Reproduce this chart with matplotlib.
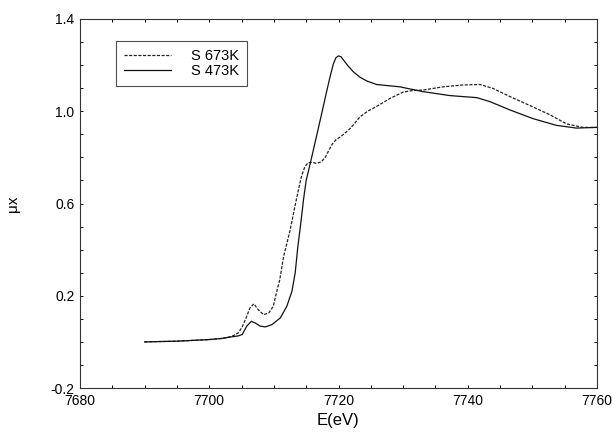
#!/usr/bin/env python3

import matplotlib
matplotlib.use('Agg')
import matplotlib.pyplot as plt
from matplotlib.ticker import MultipleLocator

# XANES spectra
energy_673 = [7690, 7695, 7700, 7702, 7703.5, 7704.5, 7705.1, 7705.6, 7706.3, 7706.9,
              7707.6, 7708.4, 7709.2, 7709.9, 7710.5, 7710.9, 7711.5, 7712.5, 7713.2,
              7713.8, 7714.3, 7714.8, 7715.3, 7716.0, 7716.6, 7717.3, 7717.9, 7718.5,
              7719.0, 7719.6, 7720.3, 7721.0, 7721.8, 7722.5, 7723.3, 7724.5, 7725.9,
              7728.0, 7730.0, 7731.5, 7733.1, 7736.2, 7739.3, 7741.9, 7743.9, 7746.5,
              7749.6, 7752.7, 7755.3, 7757.8, 7760]
mu_673 = [0.0, 0.003, 0.01, 0.015, 0.024, 0.039, 0.065, 0.097, 0.147, 0.165,
          0.139, 0.118, 0.125, 0.154, 0.225, 0.268, 0.369, 0.483, 0.58,
          0.66, 0.72, 0.76, 0.777, 0.778, 0.774, 0.78, 0.798, 0.83,
          0.856, 0.876, 0.889, 0.905, 0.925, 0.948, 0.975, 1.0, 1.021,
          1.056, 1.083, 1.09, 1.092, 1.106, 1.114, 1.116, 1.099, 1.064,
          1.025, 0.985, 0.945, 0.93, 0.93]

energy_473 = [7690, 7695, 7700, 7702, 7703.5, 7704.5, 7705.1, 7705.8, 7706.5, 7707.1,
              7707.9, 7708.7, 7709.7, 7711.0, 7712.0, 7712.8, 7713.3, 7713.7, 7714.1,
              7714.6, 7715.0, 7715.6, 7716.5, 7717.4, 7718.2, 7718.7, 7719.2, 7719.6,
              7720.0, 7720.4, 7720.8, 7721.5, 7722.3, 7723.3, 7724.4, 7725.9, 7728.0,
              7729.5, 7731.0, 7733.1, 7737.2, 7741.4, 7743.4, 7746.5, 7750.1, 7753.7,
              7756.8, 7760]
mu_473 = [0.0, 0.003, 0.01, 0.015, 0.022, 0.026, 0.032, 0.068, 0.089, 0.082,
          0.068, 0.065, 0.075, 0.104, 0.154, 0.22, 0.3, 0.41, 0.5,
          0.62, 0.7, 0.77, 0.88, 0.99, 1.09, 1.15, 1.205, 1.232,
          1.24, 1.236, 1.221, 1.196, 1.171, 1.148, 1.131, 1.116, 1.11,
          1.106, 1.097, 1.085, 1.068, 1.059, 1.042, 1.006, 0.968, 0.939,
          0.927, 0.93]

plt.rcParams['font.family'] = ['Liberation Sans', 'DejaVu Sans']

fig = plt.figure(figsize=(6.13, 4.38), dpi=100)
ax = fig.add_axes([80 / 613, 1 - 388 / 438, 517 / 613, 369 / 438])

ax.plot(energy_673, mu_673, color='#222222', linewidth=0.9,
        linestyle=(0, (2.5, 1.2)), label='S 673K')
ax.plot(energy_473, mu_473, color='#111111', linewidth=0.9, label='S 473K')

ax.set_xlim(7680, 7760)
ax.set_ylim(-0.2, 1.4)
ax.xaxis.set_major_locator(MultipleLocator(20))
ax.xaxis.set_minor_locator(MultipleLocator(5))
ax.yaxis.set_minor_locator(MultipleLocator(0.1))
ax.set_yticks([-0.2, 0.2, 0.6, 1.0, 1.4])
ax.set_yticklabels(['-0.2', '0.2', '0.6', '1.0', '1.4'])
ax.tick_params(which='both', direction='in', top=True, right=True,
               length=2.5, width=0.7, labelsize=10, pad=4)
for s in ax.spines.values():
    s.set_linewidth(0.8)
    s.set_color('#333333')

ax.set_xlabel('E(eV)', fontsize=12, labelpad=4)
ax.set_ylabel('\u03bcx', fontsize=11, labelpad=22)

leg = ax.legend(loc='upper left', bbox_to_anchor=(36 / 517, 1 - 22 / 369),
                fontsize=10.5, frameon=True, fancybox=False, handlelength=3.2,
                handletextpad=1.4, borderpad=0.55, labelspacing=0.05,
                borderaxespad=0)
leg.get_frame().set_edgecolor('#222222')
leg.get_frame().set_linewidth(0.8)

fig.savefig('out.png', dpi=100)
